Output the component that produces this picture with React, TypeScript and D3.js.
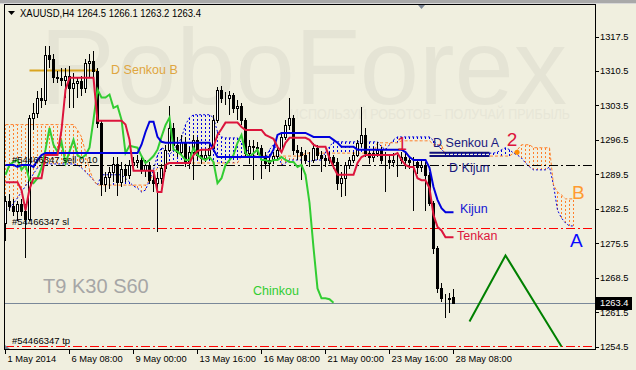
import React from "react";
import * as d3 from "d3";

const W = 636;
const H = 370;
const FONT = "'Liberation Sans', Arial, sans-serif";

const header = "XAUUSD,H4  1264.5 1266.1 1263.2 1263.4";
const priceTicks = [1254.5, 1261.5, 1268.5, 1275.5, 1282.5, 1289.5, 1296.5, 1303.5, 1310.5, 1317.5];
const timeTickBars = [0, 16, 32, 48, 64, 80, 96, 112];
const timeTickLabels = ["1 May 2014", "6 May 08:00", "9 May 00:00", "13 May 16:00", "16 May 08:00", "21 May 00:00", "23 May 16:00", "28 May 08:00"];

const opens = [
  1279.5, 1284, 1283, 1282, 1283.5, 1282, 1280.5, 1301, 1302, 1305,
  1304.5, 1313.8, 1313, 1309.3, 1309, 1308.7, 1309.5, 1307, 1308, 1308.5,
  1307, 1312.2, 1312.5, 1310.5, 1300, 1287.5, 1289, 1290, 1291.5, 1288,
  1290.5, 1289.4, 1291.4, 1292.0, 1292.4, 1290.4, 1291.4, 1288.3, 1287.7, 1288.7,
  1290.8, 1294.5, 1298.9, 1295.5, 1294.1, 1296.1, 1291.8, 1294.1, 1296.5, 1293.4,
  1292.8, 1293.4, 1294.9, 1300.6, 1306.7, 1305.1, 1305.1, 1305.7, 1303.0, 1303.4,
  1300.6, 1293.8, 1295.3, 1295.1, 1294.9, 1293.2, 1291.8, 1292.4, 1293.2, 1294.5,
  1297.1, 1299.5, 1301.0, 1294.5, 1294.1, 1293.4, 1292.4, 1292.4, 1294.9, 1293.4,
  1292.8, 1292.4, 1293.0, 1292.0, 1287.7, 1288.7, 1291.4, 1292.4, 1293.4, 1295.9,
  1297.5, 1293.8, 1293.0, 1293.8, 1294.5, 1292.4, 1292.4, 1292.0, 1292.4, 1292.4,
  1293.0, 1292.4, 1292.0, 1292.0, 1291.0, 1291.4, 1289.4, 1283.7, 1274.6, 1266.3,
  1264.3, 1264.3, 1264.5,
];
const highs = [
  1285, 1285.5, 1284.5, 1284, 1284.5, 1283.5, 1301.5, 1304, 1306.5, 1307,
  1315.5, 1315.5, 1314, 1310.5, 1311, 1311, 1311.5, 1310, 1309, 1309.5,
  1313, 1314, 1314.5, 1311, 1300.5, 1290, 1291, 1293, 1293, 1292,
  1291.5, 1292.5, 1293, 1293.5, 1293.2, 1292.5, 1292, 1289.5, 1290, 1291.5,
  1295.5, 1303.4, 1300, 1297, 1297.5, 1297, 1295, 1297.5, 1297, 1294.5,
  1294.5, 1296, 1301.5, 1307.2, 1307.5, 1306.2, 1306.5, 1306, 1304.5, 1304,
  1301, 1296.5, 1296.5, 1296, 1295.5, 1294, 1293.5, 1294, 1295.5, 1298,
  1300.5, 1305.1, 1301.5, 1295.5, 1295, 1294.5, 1294, 1295.8, 1295.5, 1294.2,
  1293.5, 1294, 1293.5, 1292.8, 1290, 1292, 1293, 1294, 1296.5, 1303.2,
  1299, 1294.5, 1295, 1296, 1295, 1294, 1293.5, 1293.8, 1293.5, 1294,
  1293.8, 1293, 1293, 1292.5, 1292.2, 1292, 1290, 1284, 1275, 1267.5,
  1265.2, 1265.3, 1266.1,
];
const lows = [
  1276, 1282, 1281, 1280, 1281, 1272.4, 1280, 1298.5, 1301, 1303,
  1303.5, 1311, 1308, 1308, 1307.5, 1305, 1303, 1303, 1305, 1305.5,
  1306, 1309, 1308.5, 1299, 1285, 1286, 1286.5, 1288, 1285, 1287,
  1288, 1288.5, 1290.5, 1290.8, 1289.5, 1289, 1287.5, 1286, 1277.7, 1287.5,
  1290, 1294, 1294.5, 1293, 1293.5, 1291, 1290.5, 1288.3, 1292.5, 1291.5,
  1292, 1292.5, 1294, 1300, 1304, 1303.5, 1301.5, 1302, 1300.5, 1299.5,
  1293, 1291.5, 1288.3, 1293.5, 1288.5, 1290.5, 1290, 1291.5, 1292.5, 1294,
  1296.5, 1298.5, 1293.5, 1292.5, 1288.3, 1291.5, 1291, 1291.8, 1292.5, 1290,
  1291, 1291.5, 1290.5, 1286.3, 1284.9, 1285, 1290.5, 1291.8, 1293, 1295,
  1293, 1291.5, 1292, 1293, 1291.5, 1285.8, 1290.5, 1291, 1289, 1291.5,
  1290.5, 1290.5, 1282, 1289.5, 1290, 1282, 1283, 1273.2, 1265.3, 1263.5,
  1260.3, 1261.3, 1263.2,
];
const closes = [
  1284, 1283, 1282, 1283.5, 1282, 1280.5, 1301, 1302, 1305, 1304.5,
  1313.8, 1313, 1309.3, 1309, 1308.7, 1309.5, 1307, 1308, 1308.5, 1307,
  1312.2, 1312.5, 1310.5, 1300, 1287.5, 1289, 1290, 1291.5, 1288, 1290.5,
  1289.4, 1291.4, 1292.0, 1292.4, 1290.4, 1291.4, 1288.3, 1287.7, 1288.7, 1290.8,
  1294.5, 1298.9, 1295.5, 1294.1, 1296.1, 1291.8, 1294.1, 1296.5, 1293.4, 1292.8,
  1293.4, 1294.9, 1300.6, 1306.7, 1305.1, 1305.1, 1305.7, 1303.0, 1303.4, 1300.6,
  1293.8, 1295.3, 1295.1, 1294.9, 1293.2, 1291.8, 1292.4, 1293.2, 1294.5, 1297.1,
  1299.5, 1301.0, 1294.5, 1294.1, 1293.4, 1292.4, 1292.4, 1294.9, 1293.4, 1292.8,
  1292.4, 1293.0, 1292.0, 1287.7, 1288.7, 1291.4, 1292.4, 1293.4, 1295.9, 1297.5,
  1293.8, 1293.0, 1293.8, 1294.5, 1292.4, 1292.4, 1292.0, 1292.4, 1292.4, 1293.0,
  1292.4, 1292.0, 1292.0, 1291.0, 1291.4, 1289.4, 1283.7, 1274.6, 1266.3, 1264.3,
  1264.3, 1264.1, 1263.4,
];

const tenkan = [
  1287.9, 1287.9, 1287.9, 1287.9, 1286.3, 1282.2, 1286.5, 1288.7, 1288.7, 1288.7,
  1293.4, 1293.4, 1293.4, 1293.4, 1298.5, 1306.7, 1309.1, 1309.1, 1309.1, 1309.1,
  1309.1, 1309.1, 1309.1, 1300.4, 1300.4, 1300.4, 1300.4, 1300.4, 1300.4, 1300.4,
  1299.6, 1296.5, 1290.2, 1290.2, 1290.2, 1290.2, 1290.2, 1290.2, 1285.9, 1285.9,
  1291.4, 1291.8, 1291.8, 1291.8, 1291.8, 1291.8, 1291.8, 1293.4, 1294.2, 1294.5,
  1294.5, 1294.5, 1295.1, 1297.5, 1298.7, 1300.0, 1300.0, 1300.0, 1300.0, 1299.1,
  1298.5, 1298.5, 1298.5, 1298.5, 1298.5, 1297.5, 1297.1, 1296.7, 1295.1, 1294.0,
  1295.9, 1296.9, 1296.9, 1296.9, 1296.9, 1296.9, 1296.5, 1295.5, 1295.1, 1295.1,
  1295.1, 1292.8, 1291.0, 1289.4, 1289.4, 1289.4, 1289.4, 1289.4, 1291.8, 1293.0,
  1293.4, 1293.4, 1293.4, 1293.4, 1293.4, 1293.4, 1293.4, 1293.4, 1293.8, 1292.4,
  1291.4, 1291.0, 1291.0, 1288.7, 1288.3, 1288.3, 1286.7, 1281.2, 1278.8, 1278.1,
  1276.7, 1276.7, 1276.7,
];
const kijun = [
  1291.4, 1291.4, 1291.4, 1291.0, 1291.4, 1291.4, 1291.4, 1291.0, 1292.4, 1293.4,
  1293.8, 1293.8, 1293.8, 1293.8, 1293.8, 1293.8, 1293.8, 1293.8, 1293.8, 1293.8,
  1293.8, 1293.8, 1293.8, 1293.8, 1293.8, 1293.8, 1293.8, 1293.8, 1293.8, 1293.8,
  1293.8, 1293.8, 1293.8, 1293.8, 1295.5, 1298.1, 1300.2, 1300.2, 1297.1, 1296.1,
  1295.9, 1295.9, 1295.9, 1295.9, 1295.9, 1295.9, 1295.9, 1295.9, 1295.9, 1295.9,
  1295.9, 1295.9, 1294.5, 1293.0, 1293.0, 1293.0, 1293.0, 1293.0, 1293.0, 1293.0,
  1293.0, 1293.0, 1293.0, 1293.0, 1293.0, 1293.0, 1293.0, 1294.5, 1297.5, 1297.9,
  1297.9, 1297.9, 1297.9, 1297.9, 1297.9, 1297.9, 1297.5, 1297.1, 1297.1, 1297.1,
  1297.1, 1297.1, 1296.5, 1295.9, 1295.1, 1295.1, 1295.1, 1295.1, 1294.5, 1294.5,
  1294.5, 1294.5, 1294.5, 1294.5, 1294.5, 1294.5, 1294.5, 1294.5, 1294.5, 1294.5,
  1294.0, 1293.0, 1292.4, 1292.4, 1292.4, 1292.4, 1290.8, 1286.9, 1284.3, 1282.6,
  1281.8, 1281.8, 1281.8,
];
const senkouA = [
  1282.2, 1282.6, 1283.6, 1284.7, 1285.9, 1287.1, 1288.3, 1289.6, 1290.8, 1291.6,
  1291.6, 1291.6, 1291.6, 1291.6, 1291.6, 1291.6, 1291.6, 1291.6, 1291.4, 1290.8,
  1290.0, 1289.2, 1288.3, 1287.3, 1289.4, 1289.4, 1289.4, 1289.4, 1289.4, 1289.4,
  1288.7, 1287.9, 1287.1, 1286.7, 1285.9, 1286.3, 1288.3, 1290.4, 1293.4, 1294.9,
  1294.5, 1293.4, 1294.5, 1295.5, 1296.9, 1299.6, 1301.0, 1301.6, 1301.6, 1301.6,
  1301.6, 1301.6, 1301.0, 1298.1, 1297.1, 1296.9, 1296.9, 1296.9, 1296.9, 1295.9,
  1294.9, 1293.8, 1293.4, 1293.0, 1292.4, 1292.8, 1294.5, 1295.5, 1294.5, 1291.4,
  1291.8, 1292.4, 1292.4, 1292.4, 1292.4, 1292.4, 1292.0, 1292.4, 1292.4, 1292.4,
  1294.0, 1295.1, 1296.1, 1296.1, 1296.1, 1296.1, 1296.1, 1296.1, 1296.1, 1296.1,
  1296.1, 1296.1, 1296.1, 1296.1, 1295.1, 1294.5, 1295.5, 1296.5, 1297.1, 1297.1,
  1297.1, 1297.1, 1297.1, 1297.1, 1297.1, 1297.1, 1297.1, 1296.3, 1295.5, 1294.5,
  1293.8, 1293.8, 1293.8, 1293.8, 1293.8, 1293.8, 1293.8, 1293.8, 1293.8, 1293.8,
  1293.8, 1293.8, 1293.8, 1294.0, 1294.5, 1294.9, 1294.5, 1293.8, 1293.4, 1292.8,
  1291.8, 1291.0, 1290.4, 1290.4, 1290.4, 1290.4, 1291.0, 1287.3, 1282.2, 1280.6,
  1279.6, 1279.0, 1279.0,
];
const senkouB = [
  1299.6, 1299.6, 1299.6, 1299.6, 1299.6, 1299.6, 1299.6, 1299.6, 1299.6, 1299.6,
  1299.6, 1299.6, 1299.6, 1299.6, 1299.6, 1299.6, 1299.6, 1299.6, 1298.5, 1297.1,
  1294.0, 1290.4, 1288.3, 1287.3, 1287.3, 1287.3, 1287.3, 1287.3, 1287.3, 1287.3,
  1287.3, 1287.3, 1287.3, 1287.3, 1287.3, 1287.3, 1288.3, 1289.4, 1290.8, 1290.8,
  1291.8, 1291.8, 1291.8, 1291.8, 1291.8, 1291.8, 1291.8, 1291.8, 1291.8, 1291.8,
  1291.8, 1291.8, 1291.8, 1291.8, 1291.8, 1291.8, 1291.8, 1291.8, 1291.8, 1293.2,
  1293.2, 1293.2, 1293.2, 1293.2, 1293.2, 1293.2, 1293.2, 1293.2, 1293.2, 1293.2,
  1293.2, 1293.2, 1293.2, 1293.2, 1293.2, 1293.8, 1293.8, 1293.8, 1293.8, 1293.8,
  1293.8, 1293.8, 1293.8, 1293.8, 1293.8, 1293.8, 1293.8, 1293.8, 1293.8, 1293.8,
  1293.8, 1293.8, 1293.8, 1295.9, 1295.9, 1295.9, 1295.9, 1295.9, 1295.9, 1296.3,
  1296.3, 1296.3, 1296.3, 1296.3, 1296.3, 1296.3, 1296.3, 1295.5, 1295.5, 1295.5,
  1293.2, 1293.2, 1293.2, 1293.2, 1293.2, 1293.2, 1293.2, 1293.2, 1293.2, 1293.2,
  1293.2, 1293.2, 1293.2, 1293.2, 1293.2, 1293.2, 1293.2, 1293.8, 1294.5, 1295.5,
  1295.5, 1295.5, 1294.9, 1294.9, 1294.9, 1294.9, 1294.9, 1287.3, 1285.9, 1285.3,
  1284.5, 1284.5, 1284.5,
];

const zigzagBars = [116, 125, 139];
const zigzagValues = [1259.6, 1273.0, 1254.5];

const sellPrice = 1291.4;
const slPrice = 1278.5;
const tpPrice = 1254.6;
const bidPrice = 1263.4;
const dSenkouBPrice = 1310.6;
const dSenkouBBars = [6, 23];
const dSenkouAPrice = 1293.9;
const dKijunPrice = 1293.2;
const dDailyBars = [106, 121];
const markerBar = 127.9;
const markerPrice = 1294.0;

const textLabels = [
  { text: "Kijun", bar: 113.6, price: 1281.6, color: "#1414d2", size: 12.5 },
  { text: "Tenkan", bar: 112.9, price: 1276.1, color: "#dc143c", size: 12.5 },
  { text: "Chinkou", bar: 61.9, price: 1265.0, color: "#32cd32", size: 12.5 },
  { text: "D Senkou A", bar: 106.9, price: 1295.0, color: "#1a1a80", size: 12.5 },
  { text: "D Kijun", bar: 110.9, price: 1290.0, color: "#1a1a80", size: 12.5 },
  { text: "D  Senkou B", bar: 26.4, price: 1309.9, color: "#dfa640", size: 12.5 },
  { text: "1", bar: 97.9, price: 1294.4, color: "#dc143c", size: 18 },
  { text: "2", bar: 125.3, price: 1295.2, color: "#dc143c", size: 19 },
  { text: "B", bar: 141.6, price: 1284.5, color: "#ff9a30", size: 19 },
  { text: "A", bar: 141.1, price: 1274.7, color: "#0a0aff", size: 19 },
  { text: "T9 K30 S60", bar: 9.4, price: 1265.4, color: "#a6a6a6", size: 20 },
];

const BG = "#f0efdf";
const ORANGE = "#ff7f2a";
const BLUE = "#0000e0";

export default function App() {
  const x = d3.scaleLinear().domain([0, 1]).range([5.5, 9.5]);
  const y = d3.scaleLinear().domain([1254.5, 1317.5]).range([346.5, 36.5]);

  const seriesLine = d3
    .line<number>()
    .x((_, i) => x(i))
    .y((d) => y(d));

  const chinkouPts: [number, number][] = closes
    .map((c, i) => [i - 30, c] as [number, number])
    .filter((p) => p[0] >= 0);
  const chinkouLine = d3
    .line<[number, number]>()
    .x((d) => x(d[0]))
    .y((d) => y(d[1]));
  const zigzag = d3
    .line<number>()
    .x((_, i) => x(zigzagBars[i]))
    .y((d) => y(d));

  const left = 4.5, top = 4.5, right = 595.5, bottom = 349.5;

  return (
    <svg
      width={W}
      height={H}
      viewBox={`0 0 ${W} ${H}`}
      style={{ position: "fixed", left: 0, top: 0, display: "block" }}
      fontFamily={FONT}
    >
      <defs>
        <clipPath id="plot">
          <rect x={5} y={5} width={590} height={344} />
        </clipPath>
      </defs>
      <rect x={0} y={0} width={W} height={H} fill={BG} />
      <rect x={0} y={0} width={W} height={3} fill="#a9a9a9" />
      <line x1={0} x2={W} y1={3.5} y2={3.5} stroke="#d8d8d8" />

      {/* watermark */}
      <text x={40} y={104} fontSize={108} fill="#e5e4d5" textLength={527} lengthAdjust="spacingAndGlyphs">
        RoboForex
      </text>
      <text x={290} y={119} fontSize={15} fill="#e7e6d7" textLength={280} lengthAdjust="spacingAndGlyphs">
        ИСПОЛЬЗУЙ РОБОТОВ – ПОЛУЧАЙ ПРИБЫЛЬ
      </text>

      <g clipPath="url(#plot)">
        {/* cloud hatch */}
        {senkouA.map((a, i) => {
          const b = senkouB[i];
          if (Math.abs(a - b) < 0.05) return null;
          return (
            <line
              key={"h" + i}
              x1={x(i)}
              x2={x(i)}
              y1={y(a)}
              y2={y(b)}
              stroke={b > a ? ORANGE : BLUE}
              strokeWidth={1}
              strokeDasharray="2,2"
              shapeRendering="crispEdges"
            />
          );
        })}
        <path d={seriesLine(senkouA) || ""} fill="none" stroke={BLUE} strokeWidth={1} strokeDasharray="2,2" />
        <path d={seriesLine(senkouB) || ""} fill="none" stroke={ORANGE} strokeWidth={1} strokeDasharray="3,2" />

        {/* order lines */}
        <line x1={left} x2={right} y1={Math.round(y(sellPrice)) + 0.5} y2={Math.round(y(sellPrice)) + 0.5} stroke="#000" strokeDasharray="9,3,2,3" shapeRendering="crispEdges" />
        <line x1={left} x2={right} y1={Math.round(y(slPrice)) + 0.5} y2={Math.round(y(slPrice)) + 0.5} stroke="#ff0000" strokeDasharray="9,3,2,3" shapeRendering="crispEdges" />
        <line x1={left} x2={right} y1={Math.round(y(tpPrice)) + 0.5} y2={Math.round(y(tpPrice)) + 0.5} stroke="#ff0000" strokeDasharray="9,3,2,3" shapeRendering="crispEdges" />
        <line x1={left} x2={right} y1={Math.round(y(bidPrice)) + 0.5} y2={Math.round(y(bidPrice)) + 0.5} stroke="#7a8899" shapeRendering="crispEdges" />

        {/* D Senkou B level */}
        <line x1={x(dSenkouBBars[0])} x2={x(dSenkouBBars[1])} y1={y(dSenkouBPrice)} y2={y(dSenkouBPrice)} stroke="#daa520" strokeWidth={2} />

        {/* candles */}
        {closes.map((c, i) => {
          const o = opens[i];
          const cx = x(i);
          const top_ = y(Math.max(o, c));
          const bot = y(Math.min(o, c));
          const bull = c > o;
          return (
            <g key={"c" + i} shapeRendering="crispEdges">
              <line x1={cx} x2={cx} y1={y(highs[i])} y2={y(lows[i])} stroke="#000" />
              <rect
                x={cx - 1}
                y={Math.round(top_) + 0.5}
                width={2}
                height={Math.max(0, Math.round(bot) - Math.round(top_))}
                fill={bull ? "#ffffff" : "#000000"}
                stroke="#000"
              />
            </g>
          );
        })}

        {/* ichimoku lines */}
        <path d={chinkouLine(chinkouPts) || ""} fill="none" stroke="#32cd32" strokeWidth={2} />
        <path d={seriesLine(kijun) || ""} fill="none" stroke="#0000dd" strokeWidth={2} />
        <path d={seriesLine(tenkan) || ""} fill="none" stroke="#dc143c" strokeWidth={2} />

        {/* daily levels */}
        <line x1={x(dDailyBars[0])} x2={x(dDailyBars[1])} y1={y(dSenkouAPrice)} y2={y(dSenkouAPrice)} stroke="#10107a" strokeWidth={2} />
        <line x1={x(dDailyBars[0])} x2={x(dDailyBars[1])} y1={y(dKijunPrice)} y2={y(dKijunPrice)} stroke="#10107a" strokeWidth={2} />

        {/* forecast zigzag */}
        <path d={zigzag(zigzagValues) || ""} fill="none" stroke="#008000" strokeWidth={2} />
        <circle cx={x(markerBar)} cy={y(markerPrice)} r={2.5} fill="#ff8c00" />

        {/* text labels */}
        {textLabels.map((t) => (
          <text key={t.text} x={x(t.bar)} y={y(t.price)} fontSize={t.size} fill={t.color}>
            {t.text}
          </text>
        ))}
        <text x={12} y={y(sellPrice) - 2} fontSize={9.5} fill="#000">#54466347 sell 0.10</text>
        <text x={12} y={y(slPrice) - 3} fontSize={9.5} fill="#000">#54466347 sl</text>
        <text x={12} y={y(tpPrice) - 2.5} fontSize={9.5} fill="#000">#54466347 tp</text>
      </g>

      {/* header */}
      <path d="M8,11 L15,11 L11.5,15 Z" fill="#000" />
      <text x={20} y={17} fontSize={10.5} fill="#000" textLength={181} lengthAdjust="spacingAndGlyphs">{header}</text>

      {/* markers */}
      <path d="M418,5 L425,5 L421.5,9 Z" fill="#7d8796" />
      <path d="M5,345 L5,349 L10,349 Z" fill="#7d8796" />

      {/* frame */}
      <rect x={left} y={top} width={right - left} height={bottom - top} fill="none" stroke="#000" shapeRendering="crispEdges" />

      {/* price axis */}
      {priceTicks.map((p) => (
        <g key={"p" + p}>
          <line x1={right} x2={right + 3} y1={Math.round(y(p)) + 0.5} y2={Math.round(y(p)) + 0.5} stroke="#000" shapeRendering="crispEdges" />
          <text x={600} y={y(p) + 3.5} fontSize={9.3} fill="#000">{p.toFixed(1)}</text>
        </g>
      ))}
      <rect x={596} y={Math.round(y(bidPrice)) - 6} width={36} height={13} fill="#000" />
      <text x={600} y={y(bidPrice) + 3.5} fontSize={9.3} fill="#fff">{bidPrice.toFixed(1)}</text>

      {/* time axis */}
      {timeTickBars.map((b, i) => (
        <g key={"t" + b}>
          <line x1={x(b)} x2={x(b)} y1={bottom} y2={bottom + 4} stroke="#000" shapeRendering="crispEdges" />
          <text x={x(b) + 2} y={362} fontSize={9.3} fill="#000">{timeTickLabels[i]}</text>
        </g>
      ))}
    </svg>
  );
}
